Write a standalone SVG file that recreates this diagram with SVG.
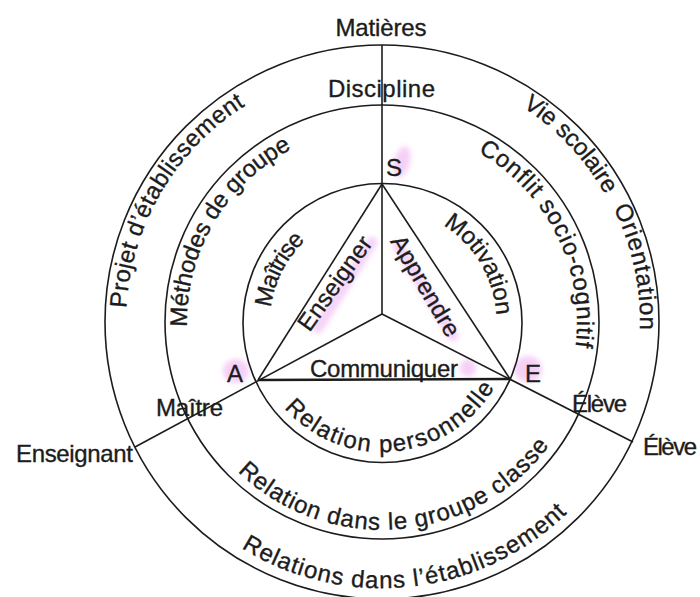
<svg xmlns="http://www.w3.org/2000/svg" width="700" height="597" viewBox="0 0 700 597">
  <style>
    .ring { fill: none; stroke: #1c1c1c; stroke-width: 1.6; }
    .ln { stroke: #1c1c1c; stroke-width: 1.6; fill: none; }
    .thick { stroke: #1c1c1c; stroke-width: 2.6; }
    .t { font-family: "Liberation Sans Narrow", "Liberation Sans", Arial, sans-serif; font-size: 24px; fill: #1c1c1c; stroke: #1c1c1c; stroke-width: 0.35; }
    .hl { fill: #f2bdf2; opacity: 0.7; filter: url(#blur); }
    .hls { stroke: #f2bdf2; stroke-linecap: round; opacity: 0.65; fill: none; filter: url(#blur); }
  </style>
  <defs>
    <filter id="blur" x="-50%" y="-50%" width="200%" height="200%">
      <feGaussianBlur stdDeviation="2.5"/>
    </filter>
    <path id="p-projet" d="M159.4,448.4 A256,256 0 0 1 383.8,66.0"/>
    <path id="p-vie" d="M322.9,71.9 A257,257 0 0 1 628.2,395.9"/>
    <path id="p-orient" d="M460.7,76.3 A258,258 0 0 1 555.5,513.0"/>
    <path id="p-meth" d="M212.3,418.0 A195,195 0 0 1 383.7,127.0"/>
    <path id="p-conflit" d="M393.6,127.3 A195,195 0 0 1 544.8,429.3"/>
    <path id="p-maitrise" d="M288.1,383.0 A112,112 0 0 1 376.1,210.2"/>
    <path id="p-motiv" d="M380.8,207.5 A114.5,114.5 0 0 1 481.8,378.2"/>
    <path id="p-relperso" d="M256.7,356.7 A130,130 0 0 0 511.6,332.2"/>
    <path id="p-relgroupe" d="M180.9,375.1 A208,208 0 0 0 589.1,340.9"/>
    <path id="p-reletab" d="M126.4,395.8 A266,266 0 0 0 647.4,340.1"/>
  </defs>
  <rect width="700" height="597" fill="#ffffff"/>

  <g id="highlights">
    <ellipse class="hl" cx="402" cy="162" rx="8" ry="16" transform="rotate(15 402 162)"/>
    <ellipse class="hl" cx="236" cy="371" rx="13" ry="12"/>
    <ellipse class="hl" cx="528" cy="369" rx="14" ry="13"/>
    <ellipse class="hl" cx="468" cy="368" rx="8" ry="9"/>
    <line class="hls" x1="318" y1="328" x2="372" y2="242" stroke-width="11"/>
    <line class="hls" x1="398" y1="246" x2="453" y2="336" stroke-width="11"/>
  </g>

  <g id="rings">
    <circle id="ring-outer" class="ring" cx="382" cy="322" r="277"/>
    <circle id="ring-middle" class="ring" cx="382" cy="322" r="217"/>
    <circle id="ring-inner" class="ring" cx="382.5" cy="323" r="139.5"/>
  </g>

  <g id="connectors">
    <line class="ln" x1="382" y1="45" x2="382" y2="314"/>
    <line class="ln" x1="382" y1="314" x2="135" y2="447"/>
    <line class="ln" x1="382" y1="314" x2="633" y2="442"/>
    <line class="ln" x1="382" y1="184" x2="258" y2="380"/>
    <line class="ln" x1="382" y1="184" x2="510" y2="379"/>
    <line class="ln thick" x1="258" y1="380" x2="510" y2="379"/>
  </g>

  <g id="node-matieres"><text class="t" x="381" y="36" text-anchor="middle" textLength="91">Matières</text></g>
  <g id="node-discipline"><text class="t" x="381.5" y="97" text-anchor="middle" textLength="107">Discipline</text></g>
  <g id="node-S"><text class="t" x="386" y="176" textLength="12">S</text></g>
  <g id="node-A"><text class="t" x="227" y="382" textLength="15">A</text></g>
  <g id="node-E"><text class="t" x="525" y="382" textLength="11">E</text></g>
  <g id="node-enseignant"><text class="t" x="16" y="462" textLength="117">Enseignant</text></g>
  <g id="node-maitre"><text class="t" x="156" y="416" textLength="67">Maître</text></g>
  <g id="node-eleve-mid"><text class="t" x="572" y="412" textLength="55">Élève</text></g>
  <g id="node-eleve-out"><text class="t" x="643" y="455" textLength="54">Élève</text></g>
  <g id="node-communiquer"><text class="t" x="384" y="377" text-anchor="middle" textLength="148">Communiquer</text></g>
  <g id="node-enseigner"><text class="t" transform="translate(341.5 288) rotate(-54.5)" text-anchor="middle" textLength="110">Enseigner</text></g>
  <g id="node-apprendre"><text class="t" transform="translate(418.5 290) rotate(59.5)" text-anchor="middle" textLength="113">Apprendre</text></g>

  <g id="node-projet"><text class="t"><textPath href="#p-projet" startOffset="50%" text-anchor="middle" textLength="244">Projet d’établissement</textPath></text></g>
  <g id="node-vie"><text class="t"><textPath href="#p-vie" startOffset="50%" text-anchor="middle" textLength="122">Vie scolaire</textPath></text></g>
  <g id="node-orientation"><text class="t"><textPath href="#p-orient" startOffset="50%" text-anchor="middle" textLength="126">Orientation</textPath></text></g>
  <g id="node-methodes"><text class="t"><textPath href="#p-meth" startOffset="50%" text-anchor="middle" textLength="217">Méthodes de groupe</textPath></text></g>
  <g id="node-conflit"><text class="t"><textPath href="#p-conflit" startOffset="50%" text-anchor="middle" textLength="231">Conflit socio-cognitif</textPath></text></g>
  <g id="node-maitrise"><text class="t"><textPath href="#p-maitrise" startOffset="50%" text-anchor="middle" textLength="77">Maîtrise</textPath></text></g>
  <g id="node-motivation"><text class="t"><textPath href="#p-motiv" startOffset="50%" text-anchor="middle" textLength="109">Motivation</textPath></text></g>
  <g id="node-relperso"><text class="t"><textPath href="#p-relperso" startOffset="50%" text-anchor="middle" textLength="246">Relation personnelle</textPath></text></g>
  <g id="node-relgroupe"><text class="t"><textPath href="#p-relgroupe" startOffset="50%" text-anchor="middle" textLength="354">Relation dans le groupe classe</textPath></text></g>
  <g id="node-reletab"><text class="t"><textPath href="#p-reletab" startOffset="50%" text-anchor="middle" textLength="353">Relations dans l’établissement</textPath></text></g>
</svg>
